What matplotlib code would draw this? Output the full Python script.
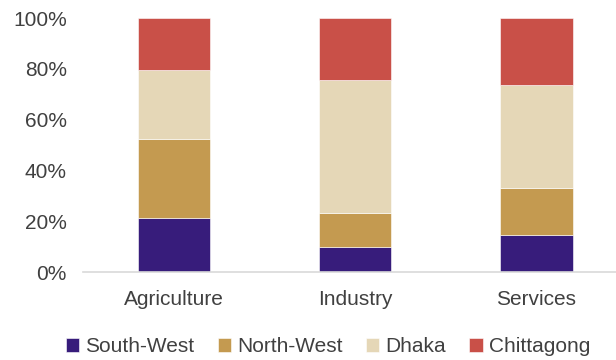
import numpy as np
import matplotlib.pyplot as plt
from matplotlib.ticker import PercentFormatter

plt.rcParams['font.family'] = ['Liberation Sans', 'DejaVu Sans']

sectors = ['Agriculture', 'Industry', 'Services']
regions = ['South-West', 'North-West', 'Dhaka', 'Chittagong']
south_west = [21.2, 9.7, 14.5]
north_west = [31.3, 13.4, 18.6]
dhaka = [27.1, 52.5, 40.7]
chittagong = [20.4, 24.4, 26.2]
colores = ['#371C7B', '#C49A50', '#E5D7B7', '#C95048']

texto = '#404040'

fig = plt.figure(figsize=(6.16, 3.6), dpi=100)
ax = fig.add_axes([83.5 / 616, 1 - 272 / 360, (616 - 83.5) / 616, 254 / 360])

x = np.arange(len(sectors))
base = np.zeros(len(sectors))
for nombre, valores, color in zip(regions, [south_west, north_west, dhaka, chittagong], colores):
    ax.bar(x, valores, bottom=base, width=0.40, color=color, label=nombre,
           edgecolor='white', linewidth=0.4)
    base += np.array(valores)

ax.set_xlim(-0.5, 2.44)
ax.set_ylim(0, 100)
ax.set_yticks(range(0, 101, 20))
ax.yaxis.set_major_formatter(PercentFormatter(decimals=0))
ax.set_xticks(x)
ax.set_xticklabels(sectors)

for lado in ['top', 'right', 'left']:
    ax.spines[lado].set_visible(False)
ax.spines['bottom'].set_color('#d9d9d9')
ax.spines['bottom'].set_linewidth(1.2)
ax.tick_params(axis='both', length=0, labelsize=15, colors=texto)
ax.tick_params(axis='y', pad=12)
ax.tick_params(axis='x', pad=13)

ax.legend(loc='lower center', bbox_to_anchor=(328 / 616, 4 / 360), bbox_transform=fig.transFigure,
          ncol=4, frameon=False, fontsize=15, labelcolor=texto, handlelength=0.65,
          handleheight=0.65, handletextpad=0.3, columnspacing=1.1, borderpad=0, borderaxespad=0)

plt.savefig('out.png', dpi=100)
